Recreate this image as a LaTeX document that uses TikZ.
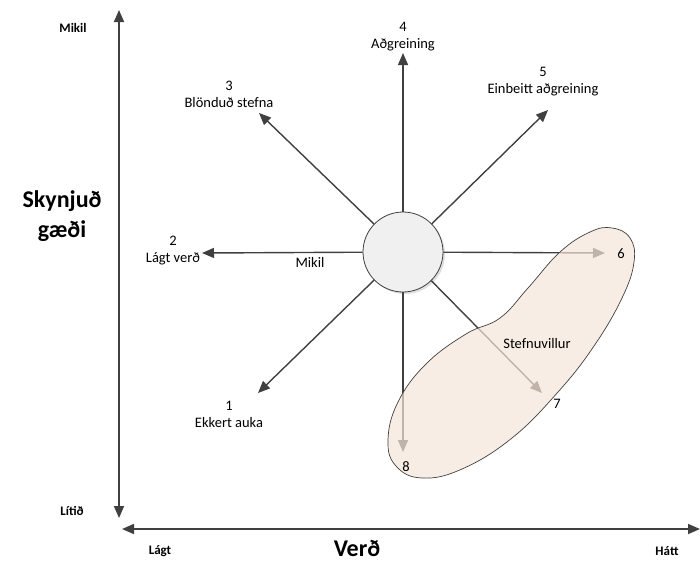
\documentclass[tikz,border=0pt]{standalone}
\usepackage{fontspec}
\setmainfont{Carlito}
\usetikzlibrary{arrows.meta,shadows}
\definecolor{ink}{HTML}{404040}
\definecolor{blobfill}{RGB}{245,229,216}
\definecolor{hubfill}{HTML}{F0F0F0}
\begin{document}
\begin{tikzpicture}[x=1pt,y=-1pt,
  axis/.style={draw=ink,line width=1.6pt,{Triangle[length=12pt,width=10pt]}-{Triangle[length=12pt,width=10pt]}},
  ray/.style={draw=ink,line width=1.4pt,-{Triangle[length=12pt,width=10pt]}},
  lbl/.style={font=\fontsize{14.5}{17}\selectfont,align=center,inner sep=0pt,text=black},
  axlbl/.style={font=\fontsize{13}{15}\selectfont\bfseries,inner sep=0pt},
  bigt/.style={font=\fontsize{24}{30}\selectfont\bfseries,align=center,inner sep=0pt}]
\useasboundingbox (0,0) rectangle (700,568);

% axes
\coordinate (ytop) at (119,10);
\coordinate (ybot) at (119,518);
\coordinate (xleft) at (122,529);
\coordinate (xright) at (700,529);
\draw[axis] (ybot) -- (ytop);
\draw[axis] (xleft) -- (xright);

\node[axlbl] (hi) at (73,28) {Mikil};
\node[axlbl] (lo) at (72,511) {Lítið};
\node[axlbl] (low) at (160,551) {Lágt};
\node[axlbl] (high) at (667,551) {Hátt};
\node[bigt] (price) at (357,548) {Verð};
\node[bigt] (quality) at (62,216) {Skynjuð\\gæði};

% central hub
\node[circle,draw=ink,line width=0.8pt,fill=hubfill,minimum size=80pt,inner sep=0pt,
      drop shadow={shadow xshift=2pt,shadow yshift=-2pt,opacity=0.25}] (c) at (403,252) {};

% arrow tips
\coordinate (t1) at (258,393);
\coordinate (t2) at (202,253);
\coordinate (t3) at (259,113);
\coordinate (t4) at (403,53);
\coordinate (t5) at (548,110);
\coordinate (t6) at (605,253);
\coordinate (t7) at (542,393);
\coordinate (t8) at (403,452);

\foreach \t in {t1,t2,t3,t4,t5} \draw[ray] (c) -- (\t);
\draw[ray] (c) -- (t6);
\draw[ray] (c) -- (t7);
\draw[ray] (c) -- (t8);

% misdirected strategies region
\fill[blobfill,fill opacity=0.7] plot[smooth cycle,tension=0.7] coordinates {
  (612,228) (630,238) (634,262) (622,298) (594,346) (558,392) (512,438)
  (462,469) (422,478) (396,466) (388,440) (398,402) (426,364) (466,334)
  (500,318) (528,288) (560,252) (590,232)};
\draw[ink,line width=0.7pt] plot[smooth cycle,tension=0.7] coordinates {
  (612,228) (630,238) (634,262) (622,298) (594,346) (558,392) (512,438)
  (462,469) (422,478) (396,466) (388,440) (398,402) (426,364) (466,334)
  (500,318) (528,288) (560,252) (590,232)};

% labels
\node[lbl] (l1) at (229,414) {1\\Ekkert auka};
\node[lbl] (l2) at (173,251) {2\\Lágt verð};
\node[lbl] (l3) at (229,94) {3\\Blönduð stefna};
\node[lbl] (l4) at (403,37) {4\\Aðgreining};
\node[lbl] (l5) at (543,82) {5\\Einbeitt aðgreining};
\node[lbl] (l6) at (621,254) {6};
\node[lbl] (l7) at (557,404) {7};
\node[lbl] (l8) at (406,467) {8};
\node[lbl] (mk) at (310,262) {Mikil};
\node[lbl] (sv) at (537,344) {Stefnuvillur};
\end{tikzpicture}
\end{document}
